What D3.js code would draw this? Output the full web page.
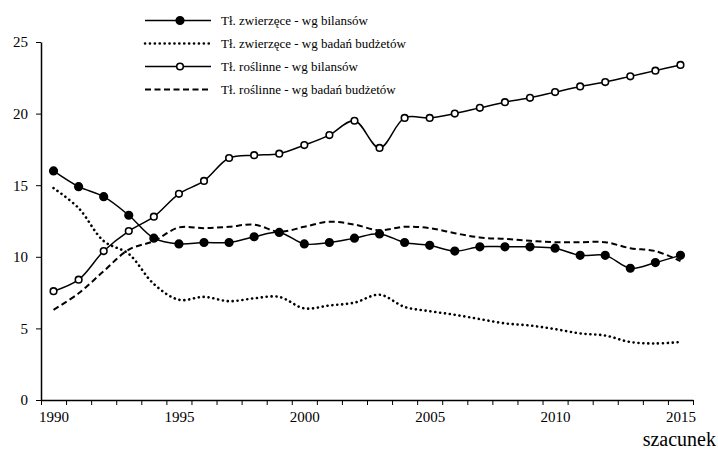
<!DOCTYPE html>
<html>
<head>
<meta charset="utf-8">
<script src="https://cdn.jsdelivr.net/npm/d3@7"></script>
<style>
  html, body { margin: 0; padding: 0; background: #fff; }
  svg text { font-family: "Liberation Serif", "Times New Roman", serif; fill: #000; }
</style>
</head>
<body>
<svg id="chart" width="718" height="455"></svg>
<script>
const years = d3.range(1990, 2016);
const xTickLabels = [1990, 1995, 2000, 2005, 2010, 2015];
const yTickValues = [0, 5, 10, 15, 20, 25];

const seriesNames = [
  "Tł. zwierzęce - wg bilansów",
  "Tł. zwierzęce - wg badań budżetów",
  "Tł. roślinne - wg bilansów",
  "Tł. roślinne - wg badań budżetów"
];

const animalBalance = [16.0, 14.9, 14.2, 12.9, 11.3, 10.9, 11.0, 11.0, 11.4, 11.7,
  10.9, 11.0, 11.3, 11.6, 11.0, 10.8, 10.4, 10.7, 10.7, 10.7,
  10.6, 10.1, 10.1, 9.2, 9.6, 10.1];
const animalBudget = [14.8, 13.4, 11.1, 10.2, 8.1, 7.0, 7.2, 6.9, 7.1, 7.2,
  6.4, 6.6, 6.8, 7.35, 6.5, 6.2, 5.95, 5.65, 5.35, 5.2,
  4.95, 4.65, 4.5, 4.05, 3.95, 4.05];
const plantBalance = [7.6, 8.4, 10.4, 11.8, 12.8, 14.4, 15.3, 16.9, 17.1, 17.2,
  17.8, 18.5, 19.5, 17.6, 19.7, 19.7, 20.0, 20.4, 20.8, 21.1,
  21.5, 21.9, 22.2, 22.6, 23.0, 23.4];
const plantBudget = [6.3, 7.45, 9.0, 10.5, 11.1, 12.05, 12.0, 12.1, 12.25, 11.75,
  12.1, 12.45, 12.25, 11.85, 12.1, 12.0, 11.65, 11.35, 11.25, 11.12,
  11.02, 11.02, 11.02, 10.6, 10.4, 9.7];

const svg = d3.select("#chart");
const x = d3.scaleLinear().domain([1989.5, 2015.5]).range([41, 693]);
const y = d3.scaleLinear().domain([0, 25]).range([400, 42]);

// Axes
const boundaries = d3.range(1989.5, 2016, 1);
svg.append("g")
  .attr("transform", "translate(0,400)")
  .call(d3.axisBottom(x).tickValues(boundaries).tickFormat("").tickSize(5).tickSizeOuter(0))
  .call(g => { g.select(".domain").attr("stroke-width", 1.5); g.selectAll(".tick line").attr("stroke-width", 1); });

svg.append("g")
  .attr("transform", "translate(0,400)")
  .call(d3.axisBottom(x).tickValues(xTickLabels).tickFormat(d3.format("d")).tickSize(0).tickPadding(11))
  .call(g => { g.select(".domain").remove(); g.selectAll("text").attr("font-size", 15).attr("font-family", "Liberation Serif"); });

svg.append("g")
  .attr("transform", "translate(41,0)")
  .call(d3.axisLeft(y).tickValues(yTickValues).tickFormat(d3.format("d")).tickSize(5).tickSizeOuter(0).tickPadding(8))
  .call(g => { g.select(".domain").attr("stroke-width", 1.5); g.selectAll("text").attr("font-size", 15).attr("font-family", "Liberation Serif"); });

svg.append("text").attr("x", 716).attr("y", 446).attr("text-anchor", "end")
  .attr("font-size", 20).text("szacunek");

const line = d3.line().x((d, i) => x(years[i])).y(d => y(d)).curve(d3.curveCatmullRom.alpha(0.5));

const styles = [
  { data: animalBalance, dash: null, width: 1.5, marker: "filled" },
  { data: animalBudget, dash: "0.1 4.8", width: 2.6, cap: "round", marker: null },
  { data: plantBalance, dash: null, width: 1.5, marker: "open" },
  { data: plantBudget, dash: "6 3.5", width: 2, marker: null }
];

// draw lines (budget first so balance lines on top)
[1, 3, 0, 2].forEach(k => {
  const s = styles[k];
  svg.append("path").datum(s.data)
    .attr("d", line)
    .attr("fill", "none").attr("stroke", "#000")
    .attr("stroke-width", s.width)
    .attr("stroke-dasharray", s.dash)
    .attr("stroke-linecap", s.cap || "butt");
});

[0, 2].forEach(k => {
  const s = styles[k];
  svg.append("g").selectAll("circle").data(s.data).join("circle")
    .attr("cx", (d, i) => x(years[i])).attr("cy", d => y(d))
    .attr("r", s.marker === "filled" ? 3.8 : 3.3)
    .attr("fill", s.marker === "filled" ? "#000" : "#fff")
    .attr("stroke", "#000").attr("stroke-width", 1.6);
});

// Legend
const legendY = [20.5, 43.5, 66.5, 89.5];
const lg = svg.append("g");
styles.forEach((s, k) => {
  const yy = legendY[k];
  lg.append("line").attr("x1", 145).attr("x2", 211).attr("y1", yy).attr("y2", yy)
    .attr("stroke", "#000").attr("stroke-width", s.width)
    .attr("stroke-dasharray", s.dash).attr("stroke-linecap", s.cap || "butt");
  if (s.marker) {
    lg.append("circle").attr("cx", 180).attr("cy", yy)
      .attr("r", s.marker === "filled" ? 3.8 : 3.3)
      .attr("fill", s.marker === "filled" ? "#000" : "#fff")
      .attr("stroke", "#000").attr("stroke-width", 1.6);
  }
  lg.append("text").attr("x", 221).attr("y", yy + 4.5).attr("font-size", 13).text(seriesNames[k]);
});
</script>
</body>
</html>
